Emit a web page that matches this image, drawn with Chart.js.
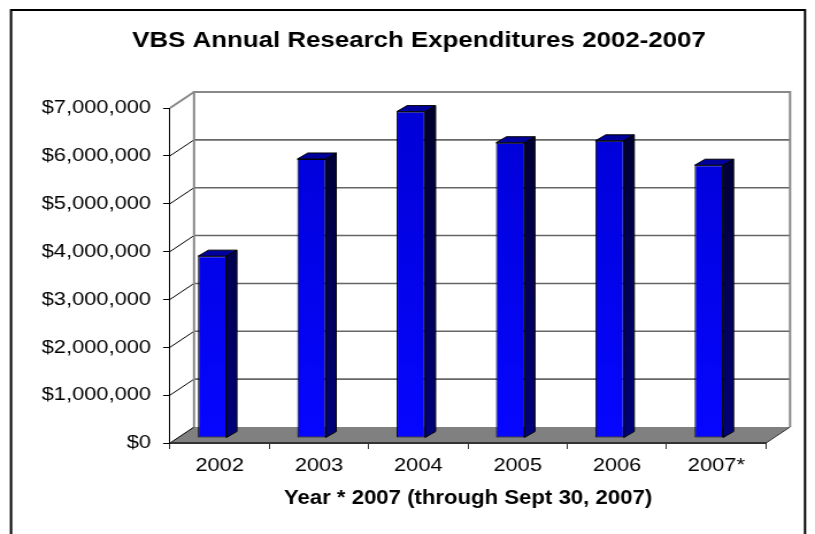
<!DOCTYPE html>
<html>
<head>
<meta charset="utf-8">
<script src="https://cdn.jsdelivr.net/npm/chart.js@4/dist/chart.umd.min.js"></script>
<style>
  html, body { margin: 0; padding: 0; background: #fff; overflow: hidden; }
  /* the chart is laid out on a narrower canvas and stretched sideways */
  #stage { position: absolute; left: 0; top: 0; width: 709px; height: 534px;
           transform: scaleX(1.1495); transform-origin: 0 0; }
</style>
</head>
<body>
<div id="stage"><canvas id="chart" width="709" height="534"></canvas></div>
<script>
// ---- data ----
const years = ['2002', '2003', '2004', '2005', '2006', '2007*'];
const expenditures = [3800000, 5830000, 6820000, 6170000, 6210000, 5700000];
const yRange = [0, 7000000];
const yStep = 1000000;
const chartTitle = 'VBS Annual Research Expenditures 2002-2007';
const xAxisTitle = 'Year * 2007 (through Sept 30, 2007)';

// ---- look ----
const FONT = "'Liberation Sans', Arial, sans-serif";
const WALL_DX = 20.9, WALL_DY = -16;      // depth of the walls / floor
const BAR_DX = 9.1, BAR_DY = -6;          // depth of each column
const BAR_SHIFT_X = -6.5, BAR_SHIFT_Y = -5; // columns stand inside the floor

const money = v => '$' + Number(v).toLocaleString('en-US');

// frame, floor, back wall and side wall behind the axes
const box3d = {
  id: 'box3d',
  beforeDraw(chart) {
    const { ctx, chartArea: a, scales: { y } } = chart;
    const L = a.left, R = a.right, B = a.bottom, T = a.top;
    ctx.save();

    // outer frame
    ctx.strokeStyle = '#000';
    ctx.lineWidth = 2;
    ctx.strokeRect(9.6, 10, 690.7, 600);

    // floor
    ctx.fillStyle = '#808080';
    ctx.beginPath();
    ctx.moveTo(L, B); ctx.lineTo(R, B);
    ctx.lineTo(R + WALL_DX, B + WALL_DY); ctx.lineTo(L + WALL_DX, B + WALL_DY);
    ctx.closePath();
    ctx.fill();

    // back wall gridlines and side wall lines, one per tick
    y.ticks.forEach((t, i) => {
      const yf = y.getPixelForValue(t.value);
      const yb = yf + WALL_DY;
      const isTop = i === y.ticks.length - 1;
      if (t.value !== yRange[0] && !isTop) {
        ctx.strokeStyle = '#666';
        ctx.lineWidth = 1.6;
        ctx.beginPath();
        ctx.moveTo(L + WALL_DX, yb); ctx.lineTo(R + WALL_DX, yb);
        ctx.stroke();
      }
      ctx.strokeStyle = isTop ? '#888' : '#000';
      ctx.lineWidth = isTop ? 2 : 1;
      ctx.beginPath();
      ctx.moveTo(L, yf); ctx.lineTo(L + WALL_DX, yb);
      ctx.stroke();
    });

    // back wall outline
    ctx.strokeStyle = '#888';
    ctx.lineWidth = 2;
    ctx.beginPath();
    ctx.moveTo(L + WALL_DX, B + WALL_DY);
    ctx.lineTo(L + WALL_DX, T + WALL_DY);
    ctx.lineTo(R + WALL_DX, T + WALL_DY);
    ctx.lineTo(R + WALL_DX, B + WALL_DY);
    ctx.stroke();

    // right floor edge
    ctx.strokeStyle = '#333';
    ctx.lineWidth = 1;
    ctx.beginPath();
    ctx.moveTo(R, B); ctx.lineTo(R + WALL_DX, B + WALL_DY);
    ctx.stroke();

    ctx.restore();
  },
  beforeDatasetsDraw(chart) {
    chart.ctx.save();
    chart.ctx.translate(BAR_SHIFT_X, BAR_SHIFT_Y);
  },
  afterDatasetsDraw(chart) {
    const ctx = chart.ctx;
    const meta = chart.getDatasetMeta(0);
    const a = chart.chartArea;
    const sideFill = ctx.createLinearGradient(0, a.top, 0, a.bottom);
    sideFill.addColorStop(0, '#00002c');
    sideFill.addColorStop(1, '#00007a');
    ctx.lineWidth = 1;
    ctx.strokeStyle = '#000';
    ctx.lineJoin = 'round';
    meta.data.forEach(bar => {
      const { x, y, base, width } = bar.getProps(['x', 'y', 'base', 'width'], true);
      const l = x - width / 2, r = x + width / 2;
      // top face
      ctx.fillStyle = '#00009c';
      ctx.beginPath();
      ctx.moveTo(l, y); ctx.lineTo(l + BAR_DX, y + BAR_DY);
      ctx.lineTo(r + BAR_DX, y + BAR_DY); ctx.lineTo(r, y);
      ctx.closePath();
      ctx.fill(); ctx.stroke();
      // side face
      ctx.fillStyle = sideFill;
      ctx.beginPath();
      ctx.moveTo(r, y); ctx.lineTo(r + BAR_DX, y + BAR_DY);
      ctx.lineTo(r + BAR_DX, base + BAR_DY); ctx.lineTo(r, base);
      ctx.closePath();
      ctx.fill(); ctx.stroke();
    });
    ctx.restore();
  }
};

const ctx = document.getElementById('chart').getContext('2d');
new Chart(ctx, {
  type: 'bar',
  data: {
    labels: years,
    datasets: [{
      data: expenditures,
      backgroundColor(c) {
        const a = c.chart.chartArea;
        if (!a) return '#0000ee';
        const g = c.chart.ctx.createLinearGradient(0, a.top, 0, a.bottom);
        g.addColorStop(0, '#0000d6');
        g.addColorStop(1, '#0606ff');
        return g;
      },
      borderColor: '#000',
      borderWidth: 1,
      borderSkipped: false,
      barPercentage: 0.287,
      categoryPercentage: 1
    }]
  },
  options: {
    responsive: false,
    animation: false,
    events: [],
    layout: { padding: { left: 20, right: 0, top: 0, bottom: 0 } },
    plugins: {
      legend: { display: false },
      tooltip: { enabled: false },
      title: {
        display: true,
        text: chartTitle,
        color: '#000',
        font: { family: FONT, size: 22.5, weight: 'bold' },
        padding: { top: 27.2, bottom: 53.8 }
      }
    },
    scales: {
      x: {
        offset: true,
        grid: { display: true, drawOnChartArea: false, drawTicks: true, tickLength: 6, color: '#333', offset: true },
        border: { display: true, color: '#333', width: 2 },
        ticks: { color: '#000', padding: 5, font: { family: FONT, size: 19 } },
        title: {
          display: true, text: xAxisTitle, color: '#000',
          font: { family: FONT, size: 19.3, weight: 'bold' },
          padding: { top: 0, bottom: 24 }
        },
        afterFit(s) { s.height = 91; }
      },
      y: {
        min: yRange[0], max: yRange[1],
        ticks: {
          stepSize: yStep, color: '#000', padding: 10.5,
          font: { family: FONT, size: 19 },
          callback: v => money(v)
        },
        grid: { display: true, drawOnChartArea: false, drawTicks: true, tickLength: 6, color: '#000' },
        border: { display: true, color: '#000', width: 1 },
        afterFit(s) { s.width = 127.9; }
      },
      yRight: {
        type: 'linear',
        position: 'right',
        ticks: { display: false },
        grid: { display: false },
        border: { display: false },
        afterFit(s) { s.width = 42.6; }
      }
    }
  },
  plugins: [box3d]
});
</script>
</body>
</html>
